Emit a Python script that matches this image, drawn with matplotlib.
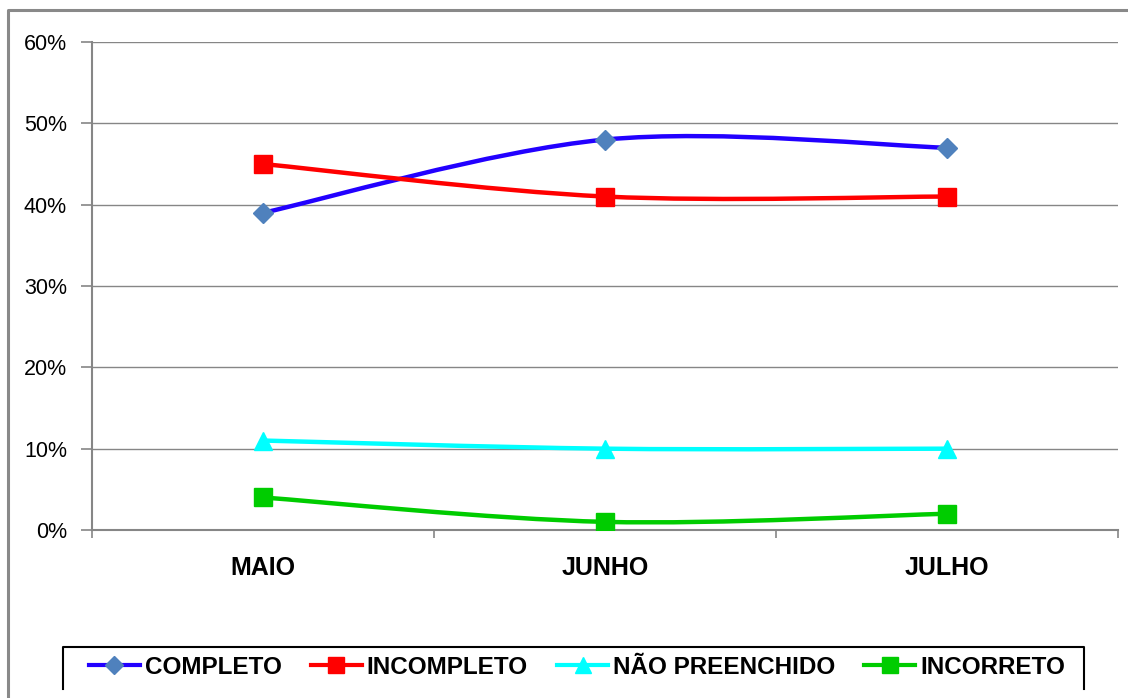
import matplotlib
matplotlib.use("Agg")
import matplotlib.pyplot as plt
from matplotlib.path import Path
from matplotlib.patches import PathPatch
from matplotlib.lines import Line2D

plt.rcParams['font.family'] = ['Liberation Sans', 'DejaVu Sans']

months = ["MAIO", "JUNHO", "JULHO"]
completo = [39, 48, 47]
incompleto = [45, 41, 41]
nao_preenchido = [11, 10, 10]
incorreto = [4, 1, 2]
y_ticks = [0, 10, 20, 30, 40, 50, 60]
y_labels = ["0%", "10%", "20%", "30%", "40%", "50%", "60%"]

GRAY = "#868686"


def smooth_path(xs, ys):
    # bezier smoothing like the spreadsheet "smoothed line" option
    pts = list(zip(xs, ys))
    verts = [pts[0]]
    codes = [Path.MOVETO]
    n = len(pts)
    for i in range(n - 1):
        p0 = pts[i - 1] if i > 0 else pts[i]
        p1 = pts[i]
        p2 = pts[i + 1]
        p3 = pts[i + 2] if i + 2 < n else pts[i + 1]
        c1 = (p1[0] + (p2[0] - p0[0]) / 6, p1[1] + (p2[1] - p0[1]) / 6)
        c2 = (p2[0] - (p3[0] - p1[0]) / 6, p2[1] - (p3[1] - p1[1]) / 6)
        verts += [c1, c2, p2]
        codes += [Path.CURVE4] * 3
    return Path(verts, codes)


fig = plt.figure(figsize=(11.28, 6.98), dpi=100)
ax = fig.add_axes([92 / 1128, 1 - 530 / 698, (1118 - 92) / 1128, (530 - 42) / 698])

xs = [i + 0.5 for i in range(len(months))]

series = [
    ("COMPLETO", completo, "#2200ff", "D", "#4f81bd", 10.5),
    ("INCOMPLETO", incompleto, "#ff0000", "s", "#ff0000", 13.5),
    ("NÃO PREENCHIDO", nao_preenchido, "#00ffff", "^", "#00ffff", 13),
    ("INCORRETO", incorreto, "#00cc00", "s", "#00cc00", 13.5),
]

handles = []
for name, vals, lc, mk, mc, ms in series:
    ax.add_patch(PathPatch(smooth_path(xs, vals), fill=False, edgecolor=lc,
                           lw=3.2, zorder=3, capstyle='round'))
    ax.plot(xs, vals, ls='none', marker=mk, ms=ms, mfc=mc, mec=mc, zorder=4)
    handles.append(Line2D([], [], color=lc, lw=3, marker=mk, ms=ms * 0.85,
                          mfc=mc, mec=mc, label=name))

ax.set_xlim(0, 3)
ax.set_ylim(0, 60)
ax.set_yticks(y_ticks)
ax.set_yticklabels(y_labels, fontsize=15.5)
ax.yaxis.grid(True, color=GRAY, lw=1)
ax.set_axisbelow(True)

ax.set_xticks([0, 1, 2, 3])
ax.set_xticklabels([])
ax.set_xticks(xs, minor=True)
ax.set_xticklabels(months, minor=True, fontsize=18, fontweight='bold')
ax.tick_params(axis='x', which='major', length=6, color=GRAY, width=1.2)
ax.tick_params(axis='x', which='minor', length=0, pad=19)
ax.tick_params(axis='y', length=8, color=GRAY, width=1.2, pad=10)

for side in ['top', 'right']:
    ax.spines[side].set_visible(False)
for side in ['left', 'bottom']:
    ax.spines[side].set_color(GRAY)
    ax.spines[side].set_linewidth(1.5)

leg = fig.legend(handles=handles, loc='center', bbox_to_anchor=(577 / 1128, 1 - 667 / 698),
                 ncol=4, frameon=False, prop={'size': 17.5, 'weight': 'bold'},
                 handlelength=2.1, handletextpad=0.2, columnspacing=1.2)

# legend frame (bottom edge is cut off in the original)
fig.add_artist(Line2D([63 / 1128, 63 / 1128, 1084 / 1128, 1084 / 1128],
                      [1 - 689 / 698, 1 - 647 / 698, 1 - 647 / 698, 1 - 689 / 698],
                      color='black', lw=1.5))
# outer chart border
fig.add_artist(Line2D([8 / 1128, 8 / 1128, 1.0], [0, 1 - 10 / 698, 1 - 10 / 698],
                      color="#898989", lw=2.2))

fig.savefig("out.png", dpi=100)
